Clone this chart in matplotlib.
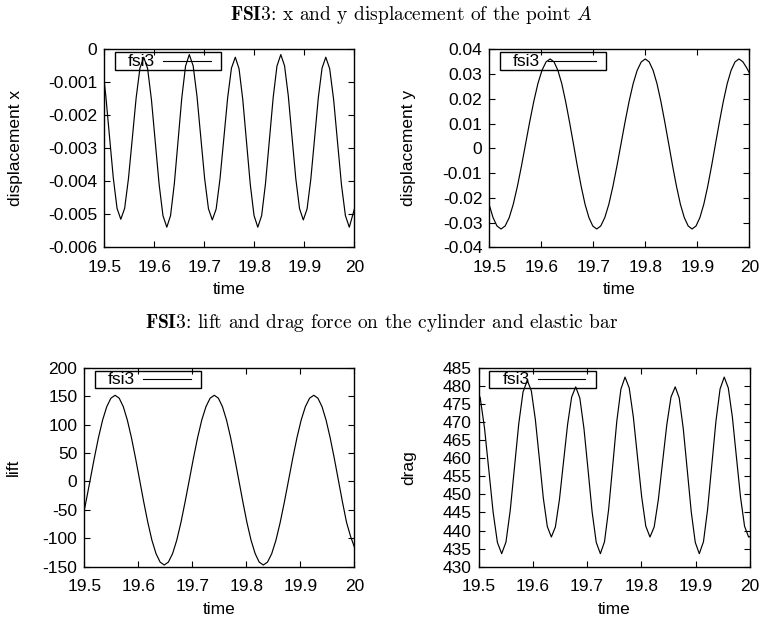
import matplotlib
matplotlib.use("Agg")
import matplotlib.pyplot as plt
from matplotlib.patches import Rectangle
from matplotlib.lines import Line2D

plt.rcParams["font.family"] = ["Liberation Sans", "DejaVu Sans"]
plt.rcParams["mathtext.fontset"] = "cm"
plt.rcParams["axes.unicode_minus"] = False

# ---- time samples and series -------------------------------------------
disp_x_t = [19.5000, 19.5030, 19.5105, 19.5180, 19.5255, 19.5330, 19.5407, 19.5483,
            19.5560, 19.5637, 19.5713, 19.5790, 19.5867, 19.5943, 19.6020, 19.6097,
            19.6173, 19.6250, 19.6325, 19.6400, 19.6475, 19.6550, 19.6625, 19.6700,
            19.6777, 19.6853, 19.6930, 19.7007, 19.7083, 19.7160, 19.7237, 19.7313,
            19.7390, 19.7467, 19.7543, 19.7620, 19.7695, 19.7770, 19.7845, 19.7920,
            19.7995, 19.8070, 19.8147, 19.8223, 19.8300, 19.8377, 19.8453, 19.8530,
            19.8605, 19.8680, 19.8755, 19.8830, 19.8905, 19.8980, 19.9055, 19.9130,
            19.9205, 19.9280, 19.9355, 19.9430, 19.9508, 19.9587, 19.9665, 19.9743,
            19.9822, 19.9900, 20.0000]
disp_x = [-0.00100, -0.00141, -0.00266, -0.00390, -0.00482, -0.00515, -0.00482, -0.00392,
          -0.00270, -0.00147, -0.00057, -0.00024, -0.00059, -0.00153, -0.00282, -0.00410,
          -0.00504, -0.00539, -0.00504, -0.00408, -0.00278, -0.00147, -0.00051, -0.00016,
          -0.00050, -0.00141, -0.00267, -0.00392, -0.00483, -0.00517, -0.00484, -0.00394,
          -0.00271, -0.00147, -0.00057, -0.00024, -0.00059, -0.00153, -0.00282, -0.00410,
          -0.00504, -0.00539, -0.00504, -0.00408, -0.00278, -0.00147, -0.00051, -0.00016,
          -0.00050, -0.00141, -0.00267, -0.00392, -0.00483, -0.00517, -0.00484, -0.00394,
          -0.00271, -0.00147, -0.00057, -0.00024, -0.00059, -0.00153, -0.00282, -0.00410,
          -0.00504, -0.00539, -0.00485]

disp_y_t = [19.5000, 19.5072, 19.5148, 19.5225,
            19.5304, 19.5383, 19.5461, 19.5540, 19.5619, 19.5698, 19.5776, 19.5855,
            19.5934, 19.6013, 19.6091, 19.6170,
            19.6245, 19.6319, 19.6394, 19.6468, 19.6543, 19.6618, 19.6692, 19.6767,
            19.6841, 19.6916, 19.6990, 19.7065,
            19.7143, 19.7221, 19.7299, 19.7377, 19.7455, 19.7533, 19.7610, 19.7688,
            19.7766, 19.7844, 19.7922, 19.8000,
            19.8075, 19.8150, 19.8225, 19.8300, 19.8375, 19.8450, 19.8525, 19.8600,
            19.8675, 19.8750, 19.8825, 19.8900,
            19.8975, 19.9050, 19.9125, 19.9200, 19.9275, 19.9350, 19.9425, 19.9500,
            19.9575, 19.9650, 19.9725, 19.9800,
            19.9875, 19.9950, 20.0000]
disp_y = [-0.0229, -0.0280, -0.0314, -0.0326,
          -0.0314, -0.0280, -0.0226, -0.0154, -0.0071, 0.0018, 0.0106, 0.0189,
          0.0261, 0.0315, 0.0349, 0.0361,
          0.0349, 0.0315, 0.0261, 0.0189, 0.0106, 0.0018, -0.0071, -0.0154,
          -0.0226, -0.0280, -0.0314, -0.0326,
          -0.0314, -0.0280, -0.0226, -0.0154, -0.0071, 0.0018, 0.0106, 0.0189,
          0.0261, 0.0315, 0.0349, 0.0361,
          0.0349, 0.0315, 0.0261, 0.0189, 0.0106, 0.0018, -0.0071, -0.0154,
          -0.0226, -0.0280, -0.0314, -0.0326,
          -0.0314, -0.0280, -0.0226, -0.0154, -0.0071, 0.0018, 0.0106, 0.0189,
          0.0261, 0.0315, 0.0349, 0.0361,
          0.0350, 0.0325, 0.0305]

lift_t = [19.5000, 19.5030, 19.5108, 19.5185, 19.5262, 19.5339, 19.5416, 19.5493, 19.5570,
          19.5646, 19.5722, 19.5797, 19.5873, 19.5949, 19.6025, 19.6101, 19.6177,
          19.6252, 19.6328, 19.6404, 19.6480,
          19.6557, 19.6635, 19.6712, 19.6789, 19.6866, 19.6944, 19.7021, 19.7098,
          19.7175, 19.7253, 19.7330, 19.7407,
          19.7483, 19.7558, 19.7634, 19.7710, 19.7785, 19.7861, 19.7937, 19.8012,
          19.8088, 19.8164, 19.8239, 19.8315,
          19.8393, 19.8471, 19.8549, 19.8627, 19.8705, 19.8783, 19.8860, 19.8938,
          19.9016, 19.9094, 19.9172, 19.9250,
          19.9326, 19.9402, 19.9477, 19.9553, 19.9629, 19.9705, 19.9781, 19.9857,
          19.9932, 20.0000]
lift = [-50.4, -36.3, 2.3, 40.8, 76.9, 107.9, 131.5, 146.4, 151.5,
        146.4, 131.5, 107.9, 76.9, 40.8, 2.3, -36.3, -72.4,
        -103.4, -127.0, -141.9, -147.0,
        -141.9, -127.0, -103.4, -72.4, -36.3, 2.3, 40.8, 76.9,
        107.9, 131.5, 146.4, 151.5,
        146.4, 131.5, 107.9, 76.9, 40.8, 2.3, -36.3, -72.4,
        -103.4, -127.0, -141.9, -147.0,
        -141.9, -127.0, -103.4, -72.4, -36.3, 2.3, 40.8, 76.9,
        107.9, 131.5, 146.4, 151.5,
        146.4, 131.5, 107.9, 76.9, 40.8, 2.3, -36.3, -72.4,
        -97.0, -115.0]

drag_t = [19.5000, 19.5029, 19.5108, 19.5187, 19.5266, 19.5345, 19.5424, 19.5503,
          19.5582, 19.5661, 19.5739, 19.5818, 19.5897, 19.5971, 19.6045, 19.6119,
          19.6192, 19.6266, 19.6340, 19.6415, 19.6490, 19.6565, 19.6640, 19.6715,
          19.6790, 19.6866, 19.6942, 19.7018, 19.7093, 19.7169, 19.7245, 19.7321,
          19.7397, 19.7473, 19.7548, 19.7624, 19.7700, 19.7777, 19.7853, 19.7930,
          19.8007, 19.8083, 19.8160, 19.8238, 19.8315, 19.8393, 19.8471, 19.8548,
          19.8626, 19.8700, 19.8774, 19.8848, 19.8922, 19.8996, 19.9070, 19.9147,
          19.9223, 19.9300, 19.9377, 19.9453, 19.9530, 19.9605, 19.9680, 19.9755,
          19.9830, 19.9905, 19.9980, 20.0000]
drag = [477.8, 476.6, 468.2, 456.7, 445.1, 436.7, 433.6, 436.8,
        445.6, 457.6, 469.5, 478.3, 481.5, 478.6, 470.7, 459.9,
        449.0, 441.1, 438.2, 441.0, 448.6, 459.0, 469.3, 476.9,
        479.7, 476.6, 468.2, 456.7, 445.1, 436.7, 433.6, 436.9,
        445.8, 458.0, 470.2, 479.1, 482.4, 479.4, 471.4, 460.3,
        449.3, 441.2, 438.2, 441.0, 448.6, 459.0, 469.3, 476.9,
        479.7, 476.6, 468.2, 456.7, 445.1, 436.7, 433.6, 436.9,
        445.8, 458.0, 470.2, 479.1, 482.4, 479.4, 471.4, 460.3,
        449.3, 441.2, 438.2, 438.3]

# ---- axis ticks -----------------------------------------------------------
time_ticks = [19.5, 19.6, 19.7, 19.8, 19.9, 20.0]
time_labels = ["19.5", "19.6", "19.7", "19.8", "19.9", "20"]
dx_ticks = [0.0, -0.001, -0.002, -0.003, -0.004, -0.005, -0.006]
dx_labels = ["0", "-0.001", "-0.002", "-0.003", "-0.004", "-0.005", "-0.006"]
dy_ticks = [0.04, 0.03, 0.02, 0.01, 0.0, -0.01, -0.02, -0.03, -0.04]
dy_labels = ["0.04", "0.03", "0.02", "0.01", "0", "-0.01", "-0.02", "-0.03", "-0.04"]
lift_ticks = [200, 150, 100, 50, 0, -50, -100, -150]
lift_labels = ["200", "150", "100", "50", "0", "-50", "-100", "-150"]
drag_ticks = [485, 480, 475, 470, 465, 460, 455, 450, 445, 440, 435, 430]
drag_labels = [str(v) for v in drag_ticks]

series_label = "fsi3"
FS = 12.5

W, H = 764, 622
fig = plt.figure(figsize=(W / 100, H / 100), dpi=100)


def make_axes(left, top, right, bottom):
    ax = fig.add_axes([left / W, 1 - bottom / H, (right - left) / W, (bottom - top) / H])
    ax._px = (right - left, bottom - top)
    return ax


def draw_key(ax):
    """gnuplot-style key: outlined box, right-justified title, then sample line."""
    w, h = ax._px
    ax.add_patch(Rectangle((10.5 / w, 1 - 20.5 / h), 106.5 / w, 17.5 / h,
                           transform=ax.transAxes, fill=False, lw=1.0,
                           edgecolor="black", clip_on=False, zorder=4))
    yk = 1 - 11.7 / h
    ax.text(51 / w, yk, series_label, transform=ax.transAxes, ha="right",
            va="center", fontsize=FS, zorder=5)
    ax.add_line(Line2D([59 / w, 106.5 / w], [yk, yk], transform=ax.transAxes,
                       color="black", lw=0.8, zorder=5))


def style(ax, x, y, yticks, ylabels, ylim, ylabel, ylab_x, xlab_y):
    ax.plot(x, y, color="black", lw=0.85)
    ax.set_xlim(19.5, 20.0)
    ax.set_ylim(*ylim)
    ax.set_xticks(time_ticks)
    ax.set_xticklabels(time_labels)
    ax.set_yticks(yticks)
    ax.set_yticklabels(ylabels)
    ax.tick_params(direction="in", top=True, right=True, length=4, width=0.8,
                   labelsize=FS)
    ax.tick_params(axis="x", pad=9)
    ax.tick_params(axis="y", pad=5)
    for s in ax.spines.values():
        s.set_linewidth(1.0)
    ax.set_xlabel("time", fontsize=FS)
    ax.set_ylabel(ylabel, fontsize=FS)
    w, h = ax._px
    ax.yaxis.set_label_coords(ylab_x / w, 0.5)
    ax.yaxis.label.set_va("center")
    ax.xaxis.set_label_coords(0.5, xlab_y / h)
    ax.xaxis.label.set_va("center")
    draw_key(ax)
    return ax


ax1 = make_axes(104.3, 49.3, 354.3, 247.3)
style(ax1, disp_x_t, disp_x, dx_ticks, dx_labels, (-0.006, 0.0), "displacement x",
      15 - 104.3, 247.3 - 290)
ax2 = make_axes(489.3, 49.3, 749.3, 247.3)
style(ax2, disp_y_t, disp_y, dy_ticks, dy_labels, (-0.04, 0.04), "displacement y",
      409 - 489.3, 247.3 - 290)
ax3 = make_axes(84.3, 367.7, 354.3, 566.7)
style(ax3, lift_t, lift, lift_ticks, lift_labels, (-150, 200), "lift",
      13 - 84.3, 566.7 - 609)
ax4 = make_axes(478.7, 367.7, 749.7, 566.7)
style(ax4, drag_t, drag, drag_ticks, drag_labels, (430, 485), "drag",
      409 - 478.7, 566.7 - 609)

fig.text(411 / W, 1 - 15 / H, r"$\mathbf{FSI3}$: x and y displacement of the point $A$",
         family="cmr10", fontsize=14, ha="center", va="center")
fig.text(382 / W, 1 - 323 / H, r"$\mathbf{FSI3}$: lift and drag force on the cylinder and elastic bar",
         family="cmr10", fontsize=14, ha="center", va="center")

fig.savefig("out.png", dpi=100)
